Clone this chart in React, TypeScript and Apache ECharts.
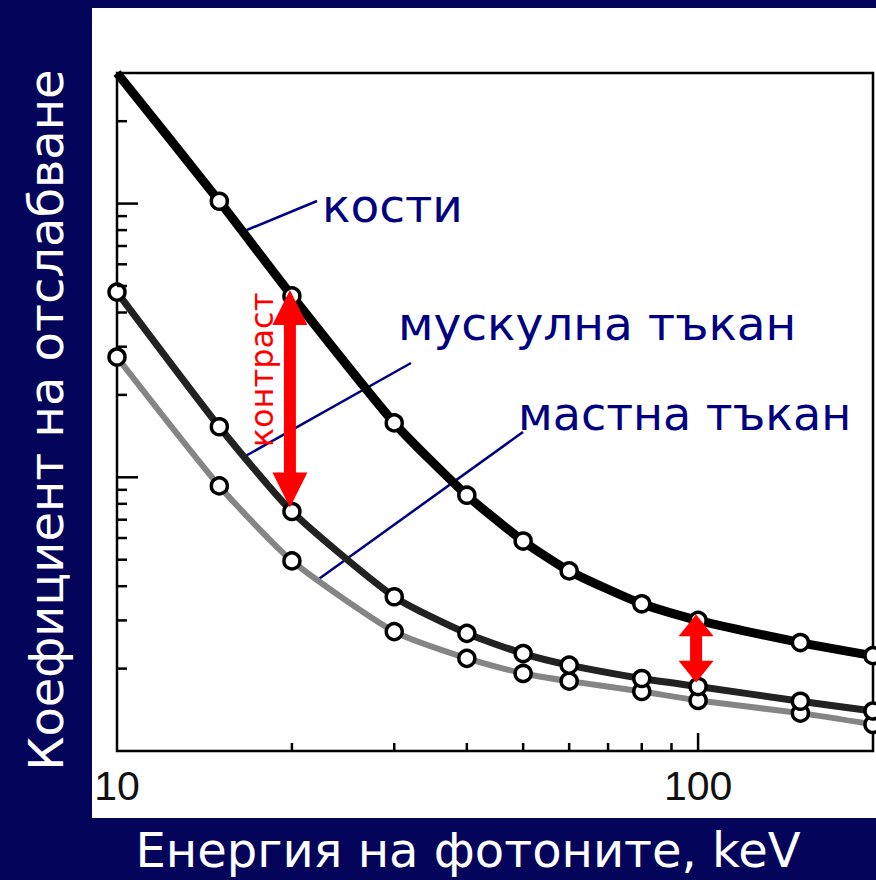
import React, { useEffect, useRef } from "react";
import * as echarts from "echarts";

// Photon energy, keV
const energy = [10, 15, 20, 30, 40, 50, 60, 80, 100, 150, 200];
// Attenuation coefficient (log scale)
const bone = [30, 10.2, 4.6, 1.58, 0.86, 0.585, 0.455, 0.345, 0.3, 0.249, 0.223];
const muscle = [4.75, 1.53, 0.75, 0.366, 0.269, 0.227, 0.206, 0.184, 0.172, 0.152, 0.14];
const fat = [2.75, 0.93, 0.495, 0.273, 0.218, 0.192, 0.18, 0.165, 0.153, 0.1375, 0.125];

// Axis ticks
const xMinorTicks = [20, 30, 40, 50, 60, 70, 80, 90];
const xMajorTicks = [100];
const xTickLabels = [10, 100];
const yMinorTicks = [0.2, 0.3, 0.4, 0.5, 0.6, 0.7, 0.8, 0.9, 2, 3, 4, 5, 6, 7, 8, 9, 20];
const yMajorTicks = [1, 10];
// Energies where the contrast arrows are drawn
const contrastAt = [20, 100];

const X_MIN = 10;
const X_MAX = 200;
const Y_MIN = 0.1;
const Y_MAX = 30;

const NAVY = "#000080";
const BG = "#04045a";
const FONT = "'DejaVu Sans', sans-serif";

export default function App() {
  const ref = useRef<HTMLDivElement>(null);

  useEffect(() => {
    if (!ref.current) return;
    const chart = echarts.init(ref.current, undefined, { renderer: "svg" });

    const pairs = (ys: number[]) => energy.map((e, i) => [e, ys[i]]);
    const boneData: any[] = pairs(bone).map((p, i) =>
      i === 0 ? { value: p, symbol: "none" } : p
    );

    const tickData = [
      ...xMinorTicks.map((v) => [v, Y_MIN, 8, 0]),
      ...xMajorTicks.map((v) => [v, Y_MIN, 18, 0]),
      ...yMinorTicks.map((v) => [X_MIN, v, 10, 1]),
      ...yMajorTicks.map((v) => [X_MIN, v, 21, 1]),
    ];

    const arrowData = contrastAt.map((e) => {
      const i = energy.indexOf(e);
      return [e, bone[i], muscle[i]];
    });

    const symbolStyle = { color: "#fff", borderColor: "#000", borderWidth: 3.5 };

    const option: any = {
      animation: false,
      grid: {
        left: 117,
        top: 73,
        width: 756,
        height: 678,
        show: true,
        borderColor: "#000",
        borderWidth: 2.5,
        backgroundColor: "transparent",
      },
      xAxis: {
        type: "log",
        logBase: 10,
        min: X_MIN,
        max: X_MAX,
        axisLine: { show: false },
        axisTick: { show: false },
        splitLine: { show: false },
        axisLabel: {
          color: "#111",
          fontSize: 41,
          fontFamily: "'Liberation Sans', Arial, sans-serif",
          margin: 14,
          formatter: (v: number) =>
            xTickLabels.some((t) => Math.abs(t - v) < 1e-6) ? String(Math.round(v)) : "",
        },
      },
      yAxis: {
        type: "log",
        logBase: 10,
        min: Y_MIN,
        max: Y_MAX,
        axisLine: { show: false },
        axisTick: { show: false },
        splitLine: { show: false },
        axisLabel: { show: false },
      },
      graphic: [
        // pointer lines
        { type: "line", z: 1, shape: { x1: 242, y1: 232, x2: 317, y2: 201 }, style: { stroke: NAVY, lineWidth: 2.5 } },
        { type: "line", z: 1, shape: { x1: 242, y1: 458, x2: 411, y2: 363 }, style: { stroke: NAVY, lineWidth: 2.5 } },
        { type: "line", z: 1, shape: { x1: 316, y1: 581, x2: 523, y2: 432 }, style: { stroke: NAVY, lineWidth: 2.5 } },
        // curve labels
        { type: "text", z: 5, style: { text: "кости", x: 322, y: 205, font: `47px ${FONT}`, fill: NAVY, textAlign: "left", textVerticalAlign: "middle" } },
        { type: "text", z: 5, style: { text: "мускулна тъкан", x: 398, y: 323, font: `47px ${FONT}`, fill: NAVY, textAlign: "left", textVerticalAlign: "middle" } },
        { type: "text", z: 5, style: { text: "мастна тъкан", x: 518, y: 414, font: `46px ${FONT}`, fill: NAVY, textAlign: "left", textVerticalAlign: "middle" } },
        // contrast label
        { type: "text", z: 20, x: 262, y: 370, rotation: Math.PI / 2, style: { text: "контраст", x: 0, y: 0, font: `32px ${FONT}`, fill: "#ff0000", textAlign: "center", textVerticalAlign: "middle" } },
        // axis titles
        { type: "text", z: 5, x: 46, y: 420, rotation: Math.PI / 2, style: { text: "Коефициент на отслабване", x: 0, y: 0, font: `48px ${FONT}`, fill: "#fff", textAlign: "center", textVerticalAlign: "middle" } },
        { type: "text", z: 5, style: { text: "Енергия на фотоните, keV", x: 468, y: 850, font: `48px ${FONT}`, fill: "#fff", textAlign: "center", textVerticalAlign: "middle" } },
      ],
      series: [
        {
          name: "мастна тъкан",
          type: "line",
          data: pairs(fat),
          smooth: 0.2,
          symbol: "circle",
          symbolSize: 16,
          lineStyle: { color: "#858585", width: 6 },
          itemStyle: symbolStyle,
          z: 2,
        },
        {
          name: "мускулна тъкан",
          type: "line",
          data: pairs(muscle),
          smooth: 0.2,
          symbol: "circle",
          symbolSize: 16,
          lineStyle: { color: "#222", width: 7 },
          itemStyle: symbolStyle,
          z: 3,
        },
        {
          name: "кости",
          type: "line",
          data: boneData,
          smooth: 0.2,
          symbol: "circle",
          symbolSize: 16,
          lineStyle: { color: "#000", width: 9 },
          itemStyle: symbolStyle,
          z: 4,
        },
        {
          name: "ticks",
          type: "custom",
          data: tickData,
          z: 6,
          silent: true,
          renderItem: (params: any, api: any) => {
            const p = api.coord([api.value(0), api.value(1)]);
            const len = api.value(2);
            const vertical = api.value(3) === 0;
            return {
              type: "line",
              shape: vertical
                ? { x1: p[0], y1: p[1], x2: p[0], y2: p[1] - len }
                : { x1: p[0], y1: p[1], x2: p[0] + len, y2: p[1] },
              style: { stroke: "#000", lineWidth: 2.5 },
            };
          },
        },
        {
          name: "контраст",
          type: "custom",
          data: arrowData,
          z: 10,
          silent: true,
          renderItem: (params: any, api: any) => {
            const x = api.value(0);
            const top = api.coord([x, api.value(1)]);
            const bot = api.coord([x, api.value(2)]);
            const cx = top[0] - 2;
            const yT = top[1] - 6;
            const yB = bot[1] - 4;
            const total = yB - yT;
            const head = Math.min(35, total * 0.32);
            const hw = 17.5;
            const sw = 6;
            return {
              type: "polygon",
              shape: {
                points: [
                  [cx, yT],
                  [cx + hw, yT + head],
                  [cx + sw, yT + head],
                  [cx + sw, yB - head],
                  [cx + hw, yB - head],
                  [cx, yB],
                  [cx - hw, yB - head],
                  [cx - sw, yB - head],
                  [cx - sw, yT + head],
                  [cx - hw, yT + head],
                ],
              },
              style: { fill: "#ff0000" },
            };
          },
        },
      ],
    };

    chart.setOption(option);
    return () => chart.dispose();
  }, []);

  return (
    <div style={{ position: "absolute", left: 0, top: 0, width: 876, height: 880, background: BG, overflow: "hidden" }}>
      <div style={{ position: "absolute", left: 92, top: 8, width: 784, height: 810, background: "#fff" }} />
      <div ref={ref} style={{ position: "absolute", left: 0, top: 0, width: 876, height: 880 }} />
    </div>
  );
}
